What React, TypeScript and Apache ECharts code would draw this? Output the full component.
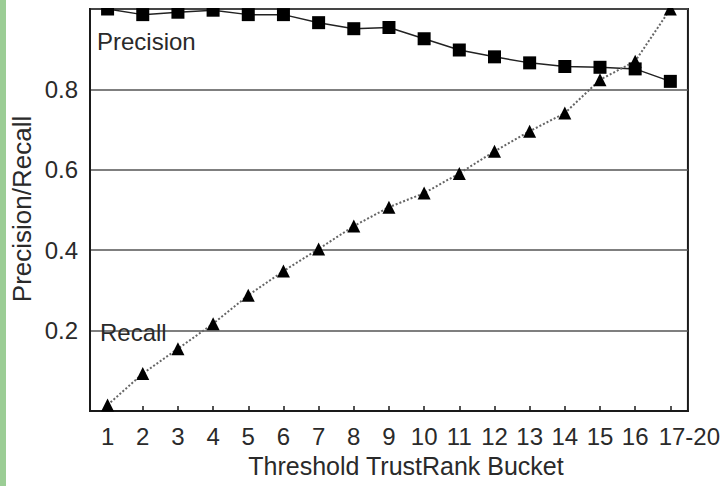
import React, { useEffect, useRef } from "react";
import * as echarts from "echarts";

const categories = ["1", "2", "3", "4", "5", "6", "7", "8", "9", "10", "11", "12", "13", "14", "15", "16", "17-20"];
const precision = [1.0, 0.986, 0.992, 0.997, 0.986, 0.986, 0.966, 0.951, 0.954, 0.926, 0.898, 0.881, 0.866, 0.857, 0.855, 0.851, 0.82];
const recall = [0.015, 0.093, 0.155, 0.217, 0.288, 0.348, 0.403, 0.46, 0.507, 0.542, 0.591, 0.646, 0.696, 0.741, 0.824, 0.87, 1.0];
const yTicks = [0.2, 0.4, 0.6, 0.8];

const FONT = "'Liberation Sans', Arial, sans-serif";

export default function App() {
  const ref = useRef<HTMLDivElement>(null);
  useEffect(() => {
    if (!ref.current) return;
    const chart = echarts.init(ref.current, null, { renderer: "svg" });
    const lastCat = categories[categories.length - 1];
    chart.setOption({
      animation: false,
      backgroundColor: "#ffffff",
      grid: {
        left: 90,
        right: 34,
        top: 9,
        bottom: 75,
        show: true,
        borderColor: "#1a1a1a",
        borderWidth: 2,
        backgroundColor: "transparent",
      },
      xAxis: {
        type: "category",
        data: categories,
        boundaryGap: true,
        axisLine: { show: true, lineStyle: { color: "#1a1a1a", width: 2 } },
        axisTick: { show: true, inside: true, alignWithLabel: true, length: 5, lineStyle: { color: "#1a1a1a", width: 1.5 } },
        axisLabel: {
          interval: 0,
          color: "#2a2a2a",
          fontFamily: FONT,
          fontSize: 24,
          margin: 13,
          formatter: (v: string) => (v === lastCat ? `{last|${v}}` : v),
          rich: {
            last: { fontFamily: FONT, fontSize: 24, color: "#2a2a2a", padding: [0, 0, 0, 38] },
          },
        },
        splitLine: { show: false },
      },
      yAxis: {
        type: "value",
        min: 0,
        max: 1,
        interval: 0.2,
        axisLine: { show: true, lineStyle: { color: "#1a1a1a", width: 2 } },
        axisTick: { show: false },
        axisLabel: {
          color: "#2a2a2a",
          fontFamily: FONT,
          fontSize: 24,
          margin: 12,
          formatter: (v: number) => {
            const t = yTicks.find((k) => Math.abs(k - v) < 1e-6);
            return t !== undefined ? t.toFixed(1) : "";
          },
        },
        splitLine: { show: true, lineStyle: { color: "#555", width: 1.5 } },
      },
      series: [
        {
          name: "Precision",
          type: "line",
          data: precision,
          symbol: "rect",
          symbolSize: 13,
          itemStyle: { color: "#000" },
          lineStyle: { color: "#222", width: 1.5, type: "solid" },
          z: 3,
        },
        {
          name: "Recall",
          type: "line",
          data: recall,
          symbol: "triangle",
          symbolSize: 13,
          itemStyle: { color: "#000" },
          lineStyle: { color: "#666", width: 2, type: "dotted" },
          z: 4,
        },
      ],
      graphic: [
        { type: "rect", shape: { x: 0, y: 0, width: 6, height: 486 }, style: { fill: "#9bcd95" }, z: 50 },
        { type: "rect", shape: { x: 6, y: 0, width: 717, height: 8 }, style: { fill: "#ffffff" }, z: 50 },
        {
          type: "text",
          x: 97,
          y: 41,
          z: 50,
          style: { text: "Precision", fontFamily: FONT, fontSize: 24, fill: "#2a2a2a", textAlign: "left", textVerticalAlign: "middle" },
        },
        {
          type: "text",
          x: 100,
          y: 332,
          z: 50,
          style: { text: "Recall", fontFamily: FONT, fontSize: 24, fill: "#2a2a2a", textAlign: "left", textVerticalAlign: "middle" },
        },
        {
          type: "text",
          x: 22,
          y: 209,
          rotation: Math.PI / 2,
          z: 50,
          style: { text: "Precision/Recall", fontFamily: FONT, fontSize: 26, fill: "#2a2a2a", textAlign: "center", textVerticalAlign: "middle" },
        },
        {
          type: "text",
          x: 406,
          y: 466,
          z: 50,
          style: { text: "Threshold TrustRank Bucket", fontFamily: FONT, fontSize: 25, fill: "#2a2a2a", textAlign: "center", textVerticalAlign: "middle" },
        },
      ],
    });
    return () => chart.dispose();
  }, []);
  return (
    <div
      ref={ref}
      style={{ position: "fixed", left: 0, top: 0, width: 723, height: 486, background: "#fff" }}
    />
  );
}
